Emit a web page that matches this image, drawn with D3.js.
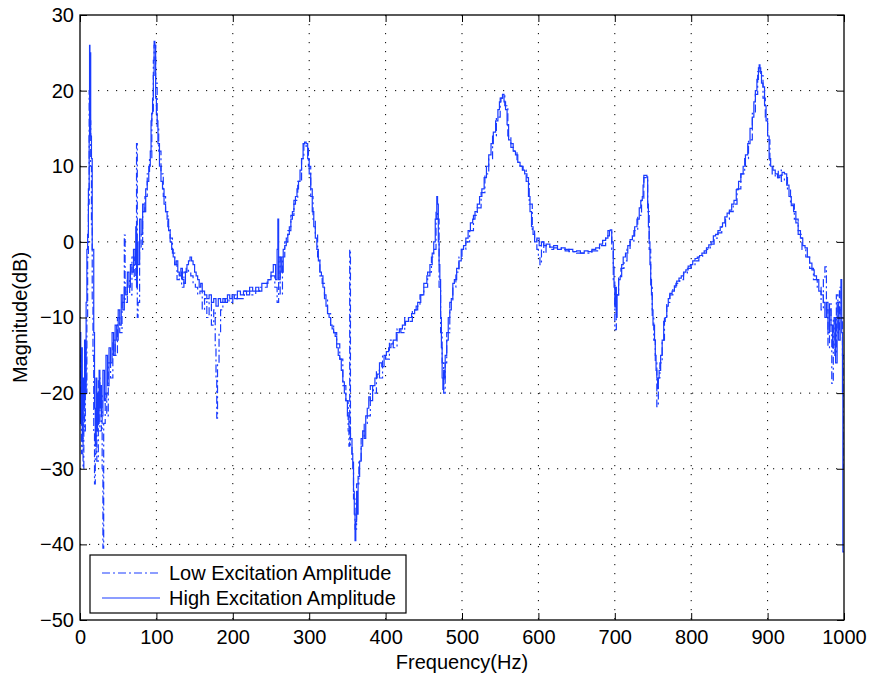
<!DOCTYPE html>
<html>
<head>
<meta charset="utf-8">
<script src="https://cdn.jsdelivr.net/npm/d3@7"></script>
<style>
  body { margin: 0; background: #fff; }
  text { font-family: Helvetica, Arial, "Liberation Sans", sans-serif; fill: #000; }
</style>
</head>
<body>
<div id="chart"></div>
<script>
// Frequency response as [frequency (Hz), magnitude (dB)]
const highExcitation = [
  [0,-12],[1,-24],[2,-14],[3,-26],[4,-18],[5,-22],[6,-13],[7,-20],[8,-8],[9,-1],[10,1],[11,7],
  [12,14],[12.5,26],[13,25],[14,14],[15,11],[16,-1],[17,-1],[18,-12],[19,-22],[20,-27],[21,-18],
  [22,-25],[23,-20],[24,-24],[25,-17],[26,-22],[27,-19],[28,-23],[30,-17],[32,-21],[34,-15],
  [36,-19],[38,-14],[40,-16],[42,-12],[44,-15],[46,-11],[48,-13],[50,-9],[52,-11],[54,-7],
  [56,-9],[58,-6],[60,-7],[62,-4],[64,-6],[66,-3],[68,-4],[70,-1],[72,-3],[73,2],[74,-6],
  [75,0],[76,-3],[78,3],[80,1],[82,5],[84,4],[86,7],[88,8],[90,10],[92,12],[93,16],[94,17],
  [95,19],[96,22],[97,26.5],[98,26],[99,19],[100,17],[101,16],[102,13],[104,10],[106,8],
  [108,7],[110,5],[112,4],[114,3],[116,1.5],[118,0],[120,-1],[122,-2],[124,-3],[126,-2.5],
  [128,-4],[130,-4.5],[132,-3.5],[134,-5],[136,-5.5],[138,-4],[140,-3],[142,-2.5],[144,-2],
  [146,-2.5],[148,-3],[150,-4],[152,-4.5],[154,-5],[156,-6],[158,-5.5],[160,-6.5],[163,-7],
  [166,-7.5],[169,-7],[172,-8],[175,-7.5],[178,-8.5],[181,-7.5],[184,-8],[187,-7.5],[190,-8],
  [193,-7],[196,-7.5],[199,-7],[202,-7.5],[206,-6.5],[210,-7],[214,-6.5],[218,-7],[222,-6],
  [226,-6.5],[230,-6],[234,-6.5],[238,-5.5],[242,-5.5],[246,-5],[250,-4],[253,-3],[256,-5],
  [258,-1],[259,3],[260,-5],[262,-2],[264,-4],[266,-1],[268,-0.5],[270,0.5],[272,1],[274,2],
  [276,3],[278,4],[280,5],[282,6],[284,7],[286,8],[288,9.5],[290,11],[292,13],[294,13.2],
  [296,13],[298,11],[300,9],[302,7],[304,4],[306,2],[308,0.5],[310,-1],[312,-2.5],[314,-4],
  [316,-4.5],[318,-6],[320,-7],[322,-8.5],[324,-9.5],[326,-10],[328,-11],[330,-11.5],[332,-12],
  [334,-12.5],[336,-14],[338,-15],[340,-15.5],[342,-17],[344,-18.5],[346,-20],[348,-21],
  [350,-23],[352,-24.5],[354,-26],[356,-28],[357,-30],[358,-33],[359,-36],[360,-39.5],[361,-37],
  [362,-33],[363,-36],[364,-31],[366,-29],[368,-27],[370,-25],[372,-26],[374,-23],[376,-22],
  [378,-20.5],[380,-21],[383,-19],[386,-18],[389,-17.5],[392,-16],[395,-16.5],[398,-15],
  [401,-14.5],[404,-14],[407,-13.5],[410,-13],[414,-12],[418,-11.5],[422,-11],[426,-10.5],
  [430,-10],[434,-9.5],[438,-9],[442,-8],[446,-7],[450,-5.5],[454,-4.5],[458,-3],[461,-1.5],
  [463,0],[465,3],[467,6],[468,5],[469,0],[470,-3],[471,-5],[472,-10],[473,-14],[474,-18],
  [475,-19.5],[476,-17],[477,-18],[478,-15],[480,-13],[482,-10],[484,-9],[486,-7.5],[488,-5.5],
  [490,-5],[493,-3.5],[496,-2.5],[499,-1],[502,-0.5],[505,0.5],[508,1.5],[511,2.5],[514,3],
  [517,4],[520,5],[523,6],[526,7],[529,8.5],[532,10],[535,11.5],[538,13],[541,14.5],[544,16],
  [547,17.5],[549,18.5],[551,19],[553,19.5],[555,18.5],[557,17.5],[559,15.5],[561,13.5],
  [564,13],[567,12],[570,11.5],[573,10.5],[576,10],[579,9.5],[582,9],[585,8.5],[587,6],[589,4],
  [591,2],[593,1],[595,0],[598,0.5],[601,-0.5],[604,0],[607,-0.5],[610,-0.3],[615,-0.7],
  [620,-0.5],[625,-1],[630,-0.8],[635,-1.2],[640,-1],[645,-1.3],[650,-1.2],[655,-1.5],
  [660,-1.2],[665,-1.3],[670,-1],[675,-0.8],[680,-0.3],[684,0.2],[688,0.5],[691,1.5],[694,1.6],
  [696,0],[698,-3.3],[699,-6],[700,-8.6],[701,-6],[702,-10],[703,-7],[705,-5],[707,-4.6],
  [709,-3],[711,-2],[714,-1.5],[717,-0.5],[720,0.3],[723,0.8],[726,2],[729,3],[732,4.5],
  [734,5.5],[736,6],[737,7.5],[738,8.8],[740,8.8],[742,8.6],[743,5],[744,2],[745,0],[746,-3],
  [747,-5],[748,-7],[749,-9],[750,-11],[752,-13],[753,-15],[754,-17],[755,-18],[756,-19.4],
  [757,-18],[758,-17],[760,-15],[762,-13],[764,-10.5],[766,-10],[768,-8.5],[770,-7.5],
  [772,-6.8],[775,-6.5],[778,-5.8],[781,-5.2],[784,-4.8],[787,-4.5],[790,-4],[793,-3.7],
  [796,-3.2],[799,-3],[802,-2.5],[805,-2.2],[808,-2],[811,-1.8],[814,-1.5],[817,-1.2],
  [820,-0.8],[823,-0.4],[826,0],[829,0.8],[832,1],[835,1.5],[838,2],[841,2.5],[844,3.3],
  [847,3.8],[850,4.2],[853,5],[856,5.5],[859,6.9],[862,8],[865,9],[868,10],[871,11.5],[874,13],
  [877,15],[880,16.5],[882,18.5],[884,20],[886,21.5],[888,23],[889,23.4],[890,22.5],[892,21],
  [894,20.5],[896,18],[898,16],[900,14],[902,11],[904,10],[907,9.5],[910,9],[913,8.5],
  [916,8.8],[919,9.2],[922,9],[925,7.5],[928,6],[931,4.8],[934,4],[937,2.5],[940,1.5],
  [943,0.5],[946,-0.5],[949,-0.8],[952,-2],[955,-2.8],[958,-3.7],[961,-4.5],[964,-5],
  [967,-6.5],[970,-7],[973,-8],[975,-10],[977,-8],[979,-12],[981,-9],[983,-11],[985,-14],
  [987,-10],[989,-16],[991,-8],[993,-13],[995,-9],[996,-5],[997,-12],[998,-20],[998.5,-41],[1000,-41]
];

const lowExcitation = [
  [0,-15],[1,-20],[2,-28],[3,-22],[4,-30],[5,-18],[6,-25],[7,-14],[8,-20],[9,-10],[10,-2],
  [11,5],[12,20],[13,16],[14,10],[15,2],[16,-8],[17,-15],[18,-25],[19,-32],[20,-28],[21,-22],
  [22,-29],[24,-18],[26,-25],[28,-20],[29,-30],[30,-40.5],[31,-24],[33,-20],[35,-23],[37,-16],
  [40,-18],[43,-13],[46,-15],[49,-10],[52,-12],[55,-8],[58,0.9],[59,-8],[62,-5],[65,-7],
  [68,-2],[71,-5],[73,-2],[74,13],[75,-10],[76,-8],[78,1],[80,-1],[82,4],[85,6],[88,9],[91,11],
  [94,17],[96,24],[97,26],[99,21],[101,15],[103,12],[106,9],[109,6],[112,4],[115,2],[118,0.5],
  [121,-1.5],[124,-3],[127,-5],[130,-4],[133,-6],[136,-4],[139,-3.5],[142,-4],[145,-4.5],
  [148,-5.5],[151,-6],[154,-7],[157,-6.5],[160,-9],[163,-7.5],[166,-10],[169,-8],[172,-11],
  [175,-9],[177,-14],[178,-18],[179,-23.3],[180,-16],[182,-12],[184,-9],[187,-8],[190,-7.5],
  [195,-8],[200,-7],[205,-7.5],[210,-7.5],[215,-6.5],[220,-6.5],[225,-7],[230,-6.5],[235,-6],
  [240,-6],[245,-5],[250,-4.5],[255,-6],[258,-8],[260,-2],[262,-7],[265,-2],[268,0],[272,1.5],
  [276,3.5],[280,5.5],[285,8],[290,11],[293,13],[296,12.5],[299,10],[302,6],[305,3],[308,1],
  [311,-2],[314,-4.5],[317,-5.5],[320,-7.5],[324,-9.5],[328,-11],[332,-12],[336,-13.5],
  [340,-15.5],[344,-19],[348,-21],[351,-25],[352,-27],[353,-1],[354,-27],[356,-29],[358,-34],
  [360,-38],[362,-32],[365,-29],[368,-26],[372,-24],[376,-23],[380,-19],[384,-20],[388,-17],
  [392,-18],[396,-15],[400,-15.5],[405,-13],[410,-14],[415,-11.5],[420,-12],[425,-10],
  [430,-10.5],[435,-9],[440,-8.5],[445,-7],[450,-6],[455,-4],[460,-2],[463,-1],[466,4],[468,3],
  [470,-6],[472,-12],[474,-16],[476,-20],[478,-16],[480,-12],[484,-8],[488,-6],[492,-4],
  [496,-2],[500,-1],[505,0],[510,1.5],[515,3.5],[520,4.5],[525,6.5],[530,9],[535,11],[540,14],
  [545,16.5],[550,19],[553,19.3],[556,18],[560,14],[564,12.5],[568,12],[572,10.5],[576,10],
  [580,9.5],[584,8],[588,5],[592,1.5],[595,0.5],[598,-1],[600,-2],[602,-3],[604,0],[607,-1.5],
  [610,-0.5],[615,-1],[620,-0.8],[630,-1],[640,-1.3],[650,-1.5],[660,-1.5],[670,-1.2],
  [680,-0.5],[688,0.8],[693,1.5],[696,-1],[698,-5],[700,-11.6],[702,-7],[705,-4.5],[708,-3.5],
  [712,-2.5],[716,-1],[720,0],[725,1.5],[730,3.5],[735,5.5],[738,8.5],[741,8.5],[743,4],
  [745,-1],[747,-6],[749,-10],[751,-13],[753,-16],[755,-21.8],[757,-18],[759,-16],[762,-13],
  [765,-10],[768,-8],[772,-7],[776,-6],[780,-5.5],[785,-5],[790,-4.2],[795,-3.5],[800,-3],
  [805,-2.5],[810,-2],[815,-1.5],[820,-1],[825,-0.3],[830,0.5],[835,1.2],[840,2],[845,3],
  [850,4],[855,5],[860,7],[865,9],[870,11],[875,13.5],[880,17],[884,19.5],[887,22.5],[889,23],
  [891,22],[894,19],[897,16.5],[900,13.5],[903,10],[906,9],[910,8.5],[914,9.5],[918,8],
  [922,8.5],[926,7],[930,5],[935,3],[940,1],[945,-1],[950,-2],[955,-3.5],[960,-5],[965,-6],
  [970,-9],[973,-5],[975,-3.3],[977,-9],[979,-14],[981,-8],[983,-12],[984,-18.7],[986,-10],
  [988,-15],[990,-7],[992,-12],[994,-6],[996,-10],[998,-15],[1000,-30]
];

const xTicks = [0, 100, 200, 300, 400, 500, 600, 700, 800, 900, 1000];
const yTicks = [-50, -40, -30, -20, -10, 0, 10, 20, 30];
const legendLabels = ["Low Excitation Amplitude", "High Excitation Amplitude"];

const width = 870, height = 675;
const margin = {top: 15, right: 26, bottom: 55, left: 80};
const lineColor = "#1a3cff";
const fontSize = 20;

const svg = d3.select("#chart").append("svg")
    .attr("width", width)
    .attr("height", height);

const x = d3.scaleLinear().domain([0, 1000]).range([margin.left, width - margin.right]);
const y = d3.scaleLinear().domain([-50, 30]).range([height - margin.bottom, margin.top]);

const fmt = d => d < 0 ? "\u2212" + Math.abs(d) : String(d);

// dotted grid
const grid = svg.append("g").attr("stroke", "#000").attr("stroke-width", 1)
    .attr("stroke-dasharray", "1.2,7.8");
grid.selectAll(".gx").data(xTicks.slice(1, -1)).join("line")
    .attr("x1", d => x(d)).attr("x2", d => x(d))
    .attr("y1", y(30)).attr("y2", y(-50));
grid.selectAll(".gy").data(yTicks.slice(1, -1)).join("line")
    .attr("x1", x(0)).attr("x2", x(1000))
    .attr("y1", d => y(d)).attr("y2", d => y(d));

svg.append("clipPath").attr("id", "clip").append("rect")
    .attr("x", x(0)).attr("y", y(30))
    .attr("width", x(1000) - x(0)).attr("height", y(-50) - y(30));

const line = d3.line().x(d => x(d[0])).y(d => y(d[1])).curve(d3.curveStepAfter);

svg.append("path").datum(highExcitation)
    .attr("clip-path", "url(#clip)")
    .attr("fill", "none").attr("stroke", lineColor).attr("stroke-width", 1.2)
    .attr("d", line);
svg.append("path").datum(lowExcitation)
    .attr("clip-path", "url(#clip)")
    .attr("fill", "none").attr("stroke", lineColor).attr("stroke-width", 1.2)
    .attr("stroke-dasharray", "8,3,2,3")
    .attr("d", line);

// axes with inward ticks
const tickLen = 7;
svg.append("g").attr("transform", `translate(0,${y(-50)})`)
    .call(d3.axisBottom(x).tickValues(xTicks).tickFormat(fmt).tickSizeInner(-tickLen).tickSizeOuter(0).tickPadding(10))
    .call(g => g.select(".domain").remove())
    .call(g => g.selectAll("text").attr("font-size", fontSize));
svg.append("g").attr("transform", `translate(0,${y(30)})`)
    .call(d3.axisTop(x).tickValues(xTicks).tickFormat("").tickSizeInner(-tickLen).tickSizeOuter(0))
    .call(g => g.select(".domain").remove());
svg.append("g").attr("transform", `translate(${x(0)},0)`)
    .call(d3.axisLeft(y).tickValues(yTicks).tickFormat(fmt).tickSizeInner(-tickLen).tickSizeOuter(0).tickPadding(6))
    .call(g => g.select(".domain").remove())
    .call(g => g.selectAll("text").attr("font-size", fontSize));
svg.append("g").attr("transform", `translate(${x(1000)},0)`)
    .call(d3.axisRight(y).tickValues(yTicks).tickFormat("").tickSizeInner(-tickLen).tickSizeOuter(0))
    .call(g => g.select(".domain").remove());

svg.append("rect")
    .attr("x", x(0)).attr("y", y(30))
    .attr("width", x(1000) - x(0)).attr("height", y(-50) - y(30))
    .attr("fill", "none").attr("stroke", "#000").attr("stroke-width", 1.3);

// axis labels
svg.append("text")
    .attr("x", (x(0) + x(1000)) / 2).attr("y", 669)
    .attr("text-anchor", "middle").attr("font-size", fontSize)
    .text("Frequency(Hz)");
svg.append("text")
    .attr("transform", `translate(27,${(y(30) + y(-50)) / 2}) rotate(-90)`)
    .attr("text-anchor", "middle").attr("font-size", fontSize)
    .text("Magnitude(dB)");

// legend
const legend = svg.append("g").attr("transform", "translate(90,555)");
legend.append("rect").attr("width", 316).attr("height", 58)
    .attr("fill", "#fff").attr("stroke", "#000").attr("stroke-width", 1.2);
const rows = legend.selectAll(".row").data(legendLabels).join("g")
    .attr("transform", (d, i) => `translate(0,${18 + i * 25})`);
rows.append("line").attr("x1", 12).attr("x2", 70)
    .attr("stroke", lineColor).attr("stroke-width", 1.2)
    .attr("stroke-dasharray", (d, i) => i === 0 ? "8,3,2,3" : null);
rows.append("text").attr("x", 79).attr("y", 7).attr("font-size", fontSize).text(d => d);
</script>
</body>
</html>
